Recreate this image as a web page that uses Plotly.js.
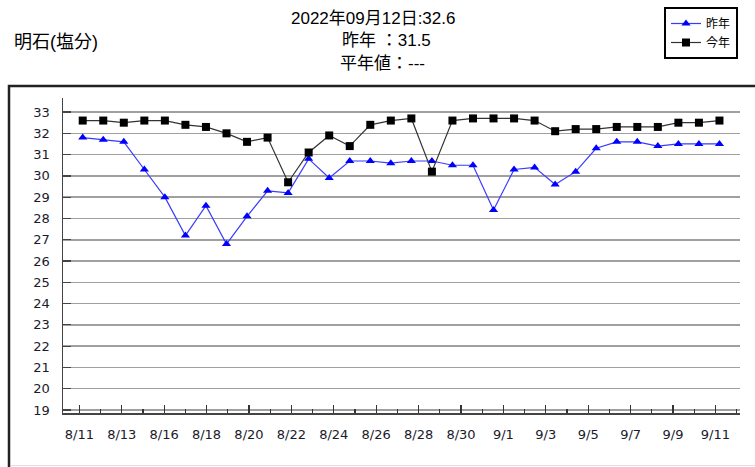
<!DOCTYPE html>
<html>
<head>
<meta charset="utf-8">
<script src="https://cdn.plot.ly/plotly-3.0.1.min.js"></script>
<style>
html,body{margin:0;padding:0;background:#fff;}
#chart{width:755px;height:467px;}
</style>
</head>
<body>
<div id="chart"></div>
<script>
// ---- data ----
var dates = ['8/11','8/12','8/13','8/15','8/16','8/17','8/18','8/19','8/20','8/21','8/22','8/23','8/24','8/25','8/26','8/27','8/28','8/29','8/30','8/31','9/1','9/2','9/3','9/4','9/5','9/6','9/7','9/8','9/9','9/10','9/11','9/12'];
var lastYear = [31.8,31.7,31.6,30.3,29.0,27.2,28.6,26.8,28.1,29.3,29.2,30.8,29.9,30.7,30.7,30.6,30.7,30.7,30.5,30.5,28.4,30.3,30.4,29.6,30.2,31.3,31.6,31.6,31.4,31.5,31.5,31.5];
var thisYear = [32.6,32.6,32.5,32.6,32.6,32.4,32.3,32.0,31.6,31.8,29.7,31.1,31.9,31.4,32.4,32.6,32.7,30.2,32.6,32.7,32.7,32.7,32.6,32.1,32.2,32.2,32.3,32.3,32.3,32.5,32.5,32.6];
var seriesNames = ['昨年','今年'];
var titleLines = ['2022年09月12日:32.6','昨年 ：31.5','平年値：---'];
var stationTitle = '明石(塩分)';
var yTicks = [19,20,21,22,23,24,25,26,27,28,29,30,31,32,33];

// ---- layout helpers (pixel -> paper) ----
var W = 755, H = 467, L = 63, R = 15, T = 98, B = 54;
var PW = W - L - R, PH = H - T - B;
function px(X){ return (X - L) / PW; }
function py(Y){ return (H - B - Y) / PH; }

var idx = dates.map(function(d,i){return i;});
var majorIdx = idx.filter(function(i){return i % 2 === 0;});
var minorIdx = idx.filter(function(i){return i % 2 === 1;});

var tickFont = {family:'DejaVu Sans, Noto Sans CJK JP, sans-serif', size:13, color:'#1a1a2a'};
var titleFont = {family:'Liberation Sans, Noto Sans CJK JP, sans-serif', size:17, color:'#000'};
var stationFont = {family:'Liberation Sans, Noto Sans CJK JP, sans-serif', size:18, color:'#000'};

var traces = [
  {x: dates, y: lastYear, name: seriesNames[0], type:'scatter', mode:'lines+markers',
   line:{color:'#3a3aff', width:1.2}, marker:{symbol:'triangle-up', size:8, color:'#0000ff'}},
  {x: dates, y: thisYear, name: seriesNames[1], type:'scatter', mode:'lines+markers',
   line:{color:'#333333', width:1.2}, marker:{symbol:'square', size:8, color:'#000000'}},
  {x: [], y: [], xaxis:'x2', yaxis:'y', showlegend:false, hoverinfo:'skip', type:'scatter'}
];

var layout = {
  width: W, height: H,
  margin: {l:L, r:R, t:T, b:B, pad:0, autoexpand:false},
  paper_bgcolor:'#fff', plot_bgcolor:'#fff',
  showlegend: true,
  legend: {x: px(664), y: py(7), xanchor:'left', yanchor:'top',
           bordercolor:'#000', borderwidth:2, bgcolor:'#fff',
           font:{family:'Noto Sans CJK JP, sans-serif', size:12, color:'#000'},
           tracegroupgap:0, itemwidth:30, entrywidth:88, entrywidthmode:'pixels'},
  xaxis: {type:'category', categoryorder:'array', categoryarray: dates,
          range:[-0.96, 32.0], showticklabels:false, ticks:'', showgrid:false,
          zeroline:false, showline:true, linecolor:'#444', linewidth:1.5,
          fixedrange:true},
  xaxis2: {type:'linear', overlaying:'x', anchor:'y', side:'bottom',
           range:[-0.77, 31.16], tickmode:'array', tickvals: majorIdx,
           ticktext: majorIdx.map(function(i){return dates[i];}),
           ticks:'inside', ticklen:8, tickwidth:1.2, tickcolor:'#333',
           minor:{tickmode:'array', tickvals: minorIdx, ticks:'inside', ticklen:4, tickwidth:1.2, tickcolor:'#333', showgrid:false},
           showgrid:false, zeroline:false, showline:false,
           tickfont: tickFont, ticklabelstandoff: 12},
  yaxis: {range:[18.86, 33.66], tickmode:'array', tickvals: yTicks,
          ticks:'inside', ticklen:8, tickwidth:1.2, tickcolor:'#444',
          showgrid:true, gridcolor:'#a0a0a0', gridwidth:1.5,
          zeroline:false, showline:true, linecolor:'#444', linewidth:1.5,
          tickfont: tickFont, ticklabelstandoff: 9, fixedrange:true},
  annotations: [
    {text: titleLines[0], xref:'paper', yref:'paper', x:px(373), y:py(18), xanchor:'center', yanchor:'middle', showarrow:false, font:titleFont},
    {text: titleLines[1], xref:'paper', yref:'paper', x:px(340), y:py(41), xanchor:'left', yanchor:'middle', showarrow:false, font:titleFont},
    {text: titleLines[2], xref:'paper', yref:'paper', x:px(338), y:py(64), xanchor:'left', yanchor:'middle', showarrow:false, font:titleFont},
    {text: stationTitle, xref:'paper', yref:'paper', x:px(12), y:py(42), xanchor:'left', yanchor:'middle', showarrow:false, font:stationFont}
  ],
  shapes: [
    {type:'rect', xref:'paper', yref:'paper', x0:px(9), x1:px(790), y0:py(86), y1:py(520),
     line:{color:'#222', width:2.5}, layer:'above'},
    {type:'line', xref:'paper', yref:'paper', x0:px(11), x1:px(790), y0:py(465.5), y1:py(465.5),
     line:{color:'#e0e0e0', width:1}}
  ]
};

Plotly.newPlot('chart', traces, layout, {displayModeBar:false, staticPlot:true});
</script>
</body>
</html>
